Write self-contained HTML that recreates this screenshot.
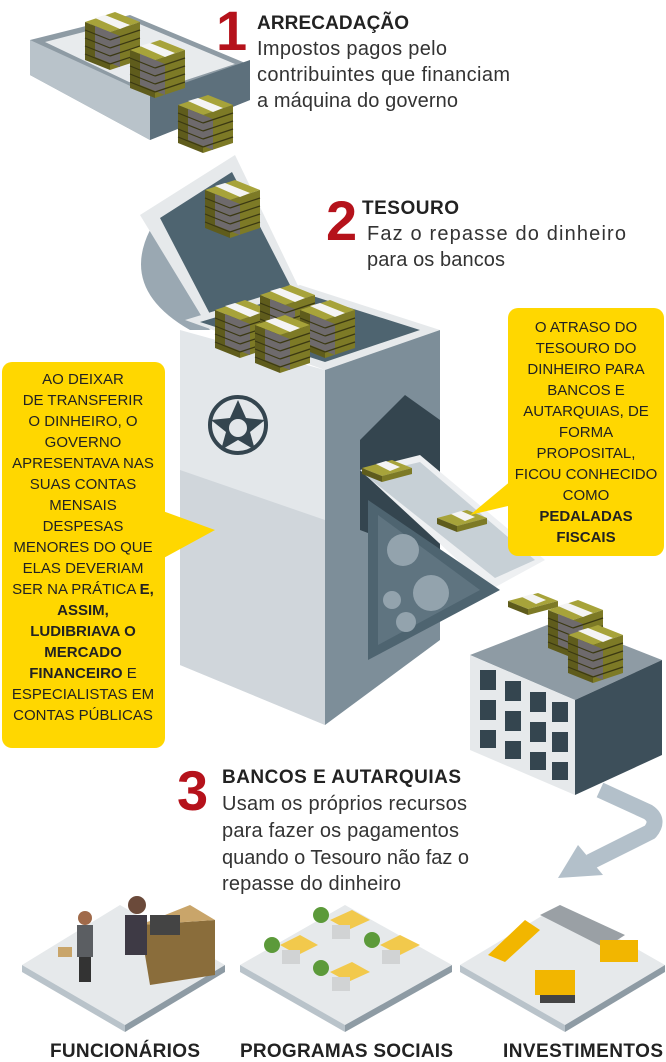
<!DOCTYPE html>
<html><head><meta charset="utf-8">
<style>
html,body{margin:0;padding:0;background:#fff;}
svg{display:block;font-family:"Liberation Sans",sans-serif;}
</style></head>
<body>
<svg width="666" height="1062" viewBox="0 0 666 1062" xmlns="http://www.w3.org/2000/svg">
<defs>
<g id="cash">
  <polygon points="0,10 30,0 55,10 25,20" fill="#a7a33a"/>
  <polygon points="0,10 25,20 25,58 0,48" fill="#5f5c1c"/>
  <polygon points="25,20 55,10 55,48 25,58" fill="#7d7a26"/>
  <polygon points="10,6 20,3 45,13 35,17" fill="#f4f4f4"/>
  <polygon points="10,14 35,24 35,55 10,45" fill="#6e6a6c"/>
  <g stroke="#3a3812" stroke-width="1.2">
  <line x1="0" y1="18" x2="25" y2="28"/><line x1="0" y1="26" x2="25" y2="36"/><line x1="0" y1="34" x2="25" y2="44"/><line x1="0" y1="42" x2="25" y2="52"/>
  <line x1="25" y1="28" x2="55" y2="18"/><line x1="25" y1="36" x2="55" y2="26"/><line x1="25" y1="44" x2="55" y2="34"/><line x1="25" y1="52" x2="55" y2="42"/>
  </g>
</g>
<g id="bill">
  <polygon points="0,8 30,0 50,8 20,16" fill="#a7a33a"/>
  <polygon points="0,8 20,16 20,22 0,14" fill="#5f5c1c"/>
  <polygon points="20,16 50,8 50,14 20,22" fill="#7d7a26"/>
  <polygon points="14,4 24,1 38,7 28,11" fill="#f4f4f4"/>
</g>
</defs>

<!-- TOP TRAY -->
<polygon points="30,40 130,15 250,65 250,100 150,140 30,75" fill="#8e9ba4"/>
<polygon points="30,40 150,95 150,140 30,75" fill="#b9c3ca"/>
<polygon points="150,95 250,60 250,100 150,140" fill="#5d707c"/>
<polygon points="45,42 130,20 235,64 150,92" fill="#e8ebed"/>
<use href="#cash" x="85" y="12"/>
<use href="#cash" x="130" y="40"/>
<use href="#cash" x="178" y="95"/>

<!-- 1 -->
<text x="216" y="50" font-size="56" font-weight="bold" fill="#b5121b">1</text>
<text x="257" y="29" font-size="19" font-weight="bold" fill="#222" textLength="152">ARRECADAÇÃO</text>
<g font-size="20" fill="#333">
<text x="257" y="55" textLength="190">Impostos pagos pelo</text>
<text x="257" y="81" textLength="253">contribuintes que financiam</text>
<text x="257" y="107" textLength="201">a máquina do governo</text>
</g>

<!-- 2 -->
<text x="326" y="240" font-size="56" font-weight="bold" fill="#b5121b">2</text>
<text x="362" y="214" font-size="19" font-weight="bold" fill="#222" textLength="97">TESOURO</text>
<g font-size="20" fill="#333">
<text x="367" y="240" textLength="259">Faz o repasse do dinheiro</text>
<text x="367" y="266" textLength="138">para os bancos</text>
</g>

<!-- MACHINE -->
<path d="M150,230 Q120,290 190,330 L210,330 Z" fill="#9aa8b2"/>
<polygon points="140,215 235,155 300,290 210,330" fill="#e6e9eb"/>
<polygon points="160,218 232,172 290,285 212,318" fill="#4e6470"/>
<polygon points="185,320 300,285 440,330 325,370" fill="#e6e9eb"/>
<polygon points="200,322 300,292 420,330 325,362" fill="#4e6470"/>
<polygon points="180,330 325,370 325,725 180,665" fill="#e3e7ea"/>
<polygon points="180,470 325,520 325,725 180,665" fill="#d0d6db"/>
<polygon points="325,370 440,330 440,640 325,725" fill="#7d8e99"/>
<polygon points="360,440 405,395 440,420 440,560 360,530" fill="#34454f"/>
<polygon points="360,470 420,455 545,560 490,590" fill="#eef0f2"/>
<polygon points="365,475 420,462 535,560 495,578" fill="#c7d0d6"/>
<polygon points="368,500 500,590 368,660" fill="#4e6470"/>
<polygon points="378,515 480,590 378,645" fill="#5f7480"/>
<circle cx="403" cy="550" r="16" fill="#93a3ad"/>
<circle cx="431" cy="593" r="18" fill="#93a3ad"/>
<circle cx="392" cy="600" r="9" fill="#93a3ad"/>
<circle cx="406" cy="622" r="10" fill="#93a3ad"/>
<circle cx="238" cy="425" r="28" fill="none" stroke="#34454f" stroke-width="4"/>
<polygon points="238,400 246,418 265,420 250,432 255,450 238,440 221,450 226,432 211,420 230,418" fill="#34454f"/>
<circle cx="238" cy="428" r="9" fill="#e3e7ea"/>
<use href="#cash" x="205" y="180"/>
<use href="#cash" x="215" y="300"/>
<use href="#cash" x="260" y="285"/>
<use href="#cash" x="300" y="300"/>
<use href="#cash" x="255" y="315"/>
<use href="#bill" x="362" y="460"/>
<use href="#bill" x="437" y="510"/>
<use href="#bill" x="508" y="593"/>

<!-- gray arrow -->
<path d="M600,790 L648,812 Q660,820 650,832 L590,862" fill="none" stroke="#b3c0ca" stroke-width="16" stroke-linejoin="round"/>
<polygon points="558,878 578,845 603,875" fill="#b3c0ca"/>

<!-- BUILDING -->
<polygon points="470,655 560,620 662,660 575,700" fill="#8e9ba4"/>
<polygon points="470,655 575,700 575,795 470,750" fill="#e6e9eb"/>
<polygon points="575,700 662,660 662,755 575,795" fill="#3d4f5a"/>
<g fill="#34454f">
<rect x="480" y="670" width="16" height="20"/><rect x="505" y="681" width="16" height="20"/><rect x="530" y="692" width="16" height="20"/><rect x="552" y="702" width="16" height="20"/>
<rect x="480" y="700" width="16" height="20"/><rect x="505" y="711" width="16" height="20"/><rect x="530" y="722" width="16" height="20"/><rect x="552" y="732" width="16" height="20"/>
<rect x="480" y="730" width="16" height="18"/><rect x="505" y="741" width="16" height="18"/><rect x="530" y="752" width="16" height="18"/><rect x="552" y="762" width="16" height="18"/>
</g>
<use href="#cash" x="548" y="600"/>
<use href="#cash" x="568" y="625"/>

<!-- 3 -->
<text x="177" y="810" font-size="56" font-weight="bold" fill="#b5121b">3</text>
<text x="222" y="783" font-size="19" font-weight="bold" fill="#222" textLength="239">BANCOS E AUTARQUIAS</text>
<g font-size="20" fill="#333">
<text x="222" y="810" textLength="245">Usam os próprios recursos</text>
<text x="222" y="837" textLength="237">para fazer os pagamentos</text>
<text x="222" y="864" textLength="247">quando o Tesouro não faz o</text>
<text x="222" y="890" textLength="179">repasse do dinheiro</text>
</g>

<!-- PLATFORMS -->
<g>
<polygon points="22,965 120,905 225,965 125,1025" fill="#e6e9eb"/>
<polygon points="22,965 125,1025 125,1032 22,972" fill="#b9c3ca"/>
<polygon points="125,1025 225,965 225,972 125,1032" fill="#8e9ba4"/>
<polygon points="140,925 215,920 215,975 150,985" fill="#8a6d3b"/>
<polygon points="140,925 190,905 215,920" fill="#c9a56a"/>
<rect x="150" y="915" width="30" height="20" fill="#444"/>
<circle cx="137" cy="905" r="9" fill="#6b4a3a"/>
<rect x="125" y="915" width="22" height="40" fill="#3e3a45"/>
<circle cx="85" cy="918" r="7" fill="#a06a4a"/>
<rect x="77" y="925" width="16" height="32" fill="#5b5e62"/>
<rect x="79" y="957" width="12" height="25" fill="#333"/>
<rect x="58" y="947" width="14" height="10" fill="#c9a56a"/>
</g>
<g>
<polygon points="240,965 345,905 452,965 345,1025" fill="#e6e9eb"/>
<polygon points="240,965 345,1025 345,1032 240,972" fill="#b9c3ca"/>
<polygon points="345,1025 452,965 452,972 345,1032" fill="#8e9ba4"/>
<g fill="#f2c94c"><polygon points="280,945 300,935 318,945 298,955"/><polygon points="330,920 352,910 370,920 348,930"/><polygon points="380,945 400,935 420,945 400,955"/><polygon points="330,972 352,962 370,972 348,982"/></g>
<g fill="#d1d3d4"><rect x="282" y="950" width="18" height="14"/><rect x="332" y="925" width="18" height="14"/><rect x="382" y="950" width="18" height="14"/><rect x="332" y="977" width="18" height="14"/></g>
<g fill="#5c9a3a"><circle cx="272" cy="945" r="8"/><circle cx="321" cy="915" r="8"/><circle cx="372" cy="940" r="8"/><circle cx="321" cy="968" r="8"/></g>
</g>
<g>
<polygon points="460,965 560,905 665,965 565,1025" fill="#e6e9eb"/>
<polygon points="460,965 565,1025 565,1032 460,972" fill="#b9c3ca"/>
<polygon points="565,1025 665,965 665,972 565,1032" fill="#8e9ba4"/>
<polygon points="540,915 560,905 625,935 605,948" fill="#9aa0a5"/>
<rect x="600" y="940" width="38" height="22" fill="#f2b600"/>
<polygon points="488,955 525,920 540,930 505,962" fill="#f2b600"/>
<rect x="535" y="970" width="40" height="25" fill="#f2b600"/>
<rect x="540" y="995" width="35" height="8" fill="#444"/>
</g>
<g font-size="19" font-weight="bold" fill="#222">
<text x="50" y="1057" textLength="150">FUNCIONÁRIOS</text>
<text x="240" y="1057" textLength="213">PROGRAMAS SOCIAIS</text>
<text x="503" y="1057" textLength="160">INVESTIMENTOS</text>
</g>

<!-- LEFT YELLOW BOX -->
<rect x="2" y="362" width="163" height="386" rx="10" fill="#ffd700"/>
<polygon points="160,510 215,530 160,560" fill="#ffd700"/>
<g font-size="15" fill="#222" text-anchor="middle">
<text x="83" y="384">AO DEIXAR</text>
<text x="83" y="405">DE TRANSFERIR</text>
<text x="83" y="426">O DINHEIRO, O</text>
<text x="83" y="447">GOVERNO</text>
<text x="83" y="468">APRESENTAVA NAS</text>
<text x="83" y="489">SUAS CONTAS</text>
<text x="83" y="510">MENSAIS</text>
<text x="83" y="531">DESPESAS</text>
<text x="83" y="552">MENORES DO QUE</text>
<text x="83" y="573">ELAS DEVERIAM</text>
<text x="83" y="594">SER NA PRÁTICA <tspan font-weight="bold">E,</tspan></text>
<text x="83" y="615" font-weight="bold">ASSIM,</text>
<text x="83" y="636" font-weight="bold">LUDIBRIAVA O</text>
<text x="83" y="657" font-weight="bold">MERCADO</text>
<text x="83" y="678"><tspan font-weight="bold">FINANCEIRO</tspan> E</text>
<text x="83" y="699">ESPECIALISTAS EM</text>
<text x="83" y="720">CONTAS PÚBLICAS</text>
</g>

<!-- RIGHT YELLOW BOX -->
<rect x="508" y="308" width="156" height="248" rx="10" fill="#ffd700"/>
<polygon points="512,480 470,515 512,505" fill="#ffd700"/>
<g font-size="15" fill="#222" text-anchor="middle">
<text x="586" y="332">O ATRASO DO</text>
<text x="586" y="353">TESOURO DO</text>
<text x="586" y="374">DINHEIRO PARA</text>
<text x="586" y="395">BANCOS E</text>
<text x="586" y="416">AUTARQUIAS, DE</text>
<text x="586" y="437">FORMA</text>
<text x="586" y="458">PROPOSITAL,</text>
<text x="586" y="479">FICOU CONHECIDO</text>
<text x="586" y="500">COMO</text>
<text x="586" y="521" font-weight="bold">PEDALADAS</text>
<text x="586" y="542" font-weight="bold">FISCAIS</text>
</g>
</svg>
</body></html>
